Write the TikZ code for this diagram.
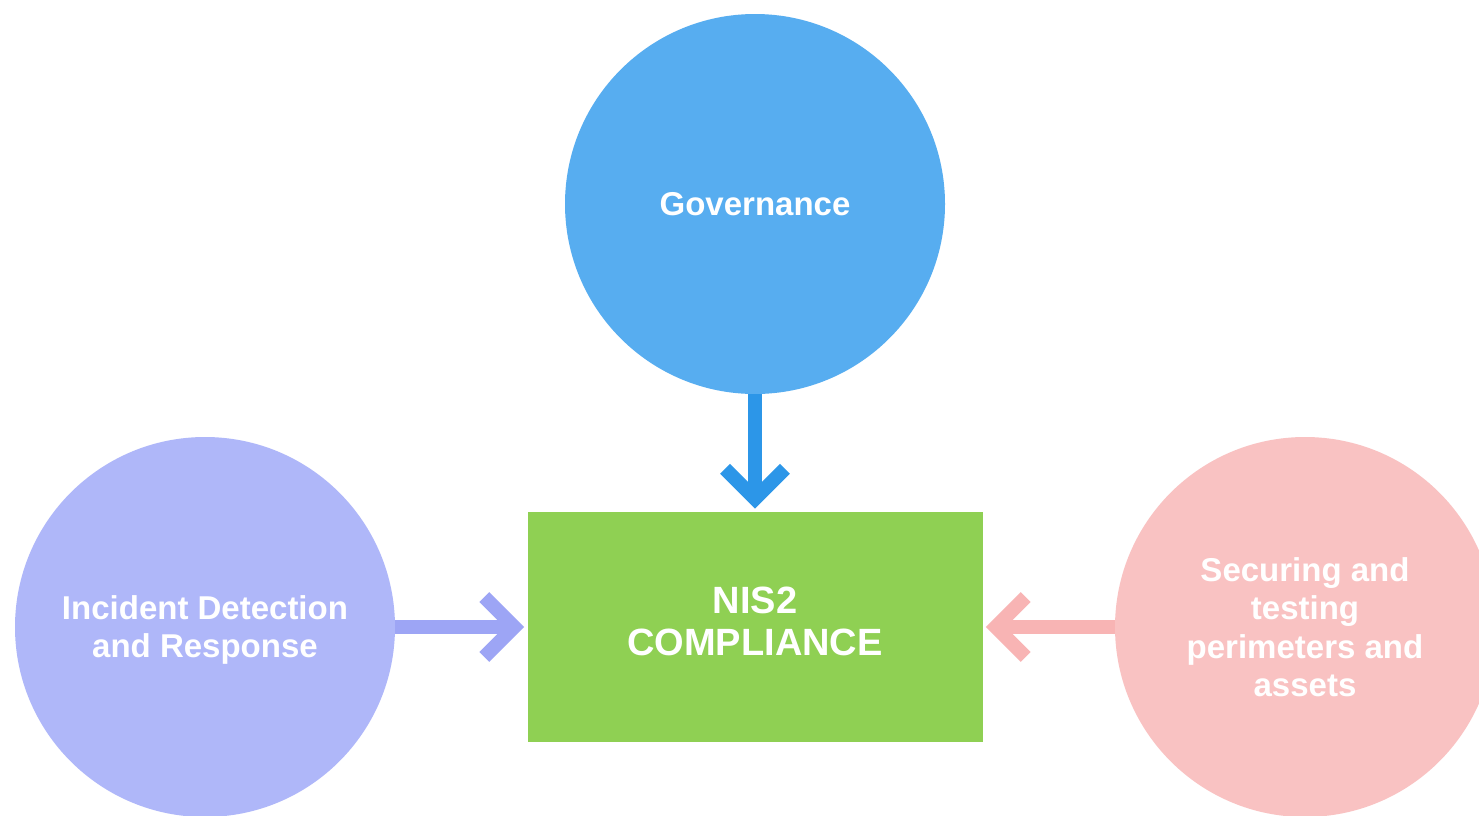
\documentclass[tikz,border=0pt]{standalone}
\usepackage{fontspec}
\setmainfont{Liberation Sans}
\usetikzlibrary{calc}
\definecolor{govblue}{RGB}{87,173,240}
\definecolor{govarrow}{RGB}{44,150,232}
\definecolor{idrpurple}{RGB}{175,183,249}
\definecolor{idrarrow}{RGB}{157,165,245}
\definecolor{secpink}{RGB}{249,194,194}
\definecolor{secarrow}{RGB}{248,180,180}
\definecolor{nisgreen}{RGB}{143,208,83}
\tikzset{
  bubble/.style={circle, minimum size=380pt, inner sep=0pt, draw=none, text=white, align=center,
    font=\bfseries\fontsize{33}{38.5}\selectfont},
  boxnode/.style={rectangle, minimum width=455pt, minimum height=230pt, inner sep=0pt, fill=nisgreen, draw=none},
  boxtext/.style={text=white, align=center, font=\bfseries\fontsize{38}{42}\selectfont},
  flow/.style={line width=14pt, line cap=butt, line join=miter},
}
\begin{document}
\begin{tikzpicture}[x=1pt, y=-1pt]
\useasboundingbox (0,0) rectangle (1479,815);
\fill[white] (0,0) rectangle (1479,815);
\clip (0,0) rectangle (1479,815);
\node[bubble, fill=govblue] (gov) at (755,204) {Governance};
\node[bubble, fill=idrpurple] (idr) at (205,627) {};
\node[bubble, fill=secpink] (sec) at (1305,627) {Securing and\\testing\\perimeters and\\assets};
\node[bubble, fill=none] (idrlabel) at (205,630) {Incident Detection\\and Response};
\node[boxnode] (box) at (755,627) {};
\node[boxtext] (boxlabel) at (755,621) {NIS2\\COMPLIANCE};
% arrow tips (apex of the centre line, set back so the outer point meets the box)
\coordinate (tgov) at ($(box.north)+(0,-13)$);
\coordinate (tidr) at ($(box.west)+(-13,0)$);
\coordinate (tsec) at ($(box.east)+(13,0)$);
% Governance -> box
\draw[flow, govarrow] (gov.south) -- (tgov);
\draw[flow, govarrow] ($(tgov)+(-30,-30)$) -- (tgov) -- ($(tgov)+(30,-30)$);
% Incident -> box
\draw[flow, idrarrow] (idr.east) -- (tidr);
\draw[flow, idrarrow] ($(tidr)+(-30,-30)$) -- (tidr) -- ($(tidr)+(-30,30)$);
% Securing -> box
\draw[flow, secarrow] (sec.west) -- (tsec);
\draw[flow, secarrow] ($(tsec)+(30,-30)$) -- (tsec) -- ($(tsec)+(30,30)$);
\end{tikzpicture}
\end{document}
